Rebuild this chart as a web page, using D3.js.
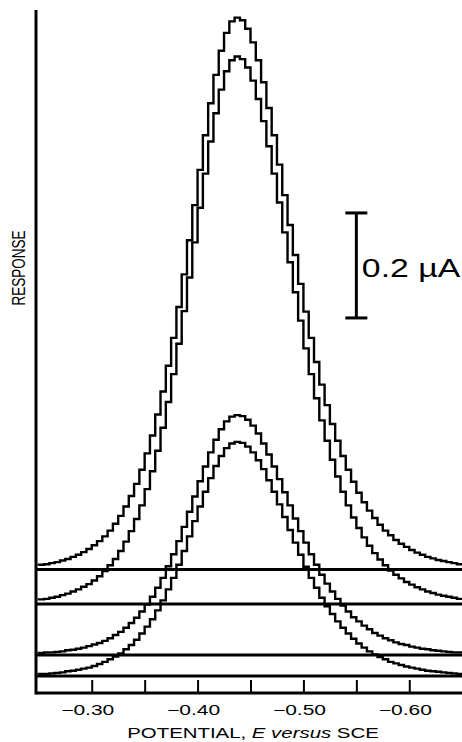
<!DOCTYPE html>
<html>
<head>
<meta charset="utf-8">
<script src="https://cdn.jsdelivr.net/npm/d3@7"></script>
<style>
	body { margin: 0; background: #fff; }
	svg { display: block; }
	text { font-family: "Liberation Sans", Arial, Helvetica, sans-serif; fill: #000; }
</style>
</head>
<body>
<div id="chart"></div>
<script>
//---------------- data (potential in V, current in uA above own baseline) ----------------------
var potentials = [
	-0.250, -0.255, -0.260, -0.265, -0.270, -0.275, -0.280, -0.285, -0.290, -0.295,
	-0.300, -0.305, -0.310, -0.315, -0.320, -0.325, -0.330, -0.335, -0.340, -0.345,
	-0.350, -0.355, -0.360, -0.365, -0.370, -0.375, -0.380, -0.385, -0.390, -0.395,
	-0.400, -0.405, -0.410, -0.415, -0.420, -0.425, -0.430, -0.435, -0.440, -0.445,
	-0.450, -0.455, -0.460, -0.465, -0.470, -0.475, -0.480, -0.485, -0.490, -0.495,
	-0.500, -0.505, -0.510, -0.515, -0.520, -0.525, -0.530, -0.535, -0.540, -0.545,
	-0.550, -0.555, -0.560, -0.565, -0.570, -0.575, -0.580, -0.585, -0.590, -0.595,
	-0.600, -0.605, -0.610, -0.615, -0.620, -0.625, -0.630, -0.635, -0.640, -0.645,
	-0.650];

var bigOuter = [
	0.007, 0.009, 0.010, 0.012, 0.014, 0.017, 0.020, 0.024, 0.028, 0.033,
	0.039, 0.046, 0.054, 0.063, 0.074, 0.087, 0.102, 0.120, 0.140, 0.163,
	0.190, 0.221, 0.255, 0.295, 0.339, 0.388, 0.441, 0.500, 0.562, 0.627,
	0.694, 0.761, 0.827, 0.888, 0.942, 0.988, 1.022, 1.044, 1.051, 1.046,
	1.030, 1.004, 0.970, 0.928, 0.879, 0.827, 0.771, 0.713, 0.656, 0.599,
	0.544, 0.491, 0.441, 0.395, 0.352, 0.313, 0.277, 0.245, 0.216, 0.190,
	0.167, 0.146, 0.128, 0.112, 0.098, 0.085, 0.074, 0.065, 0.056, 0.049,
	0.043, 0.037, 0.032, 0.028, 0.024, 0.021, 0.018, 0.016, 0.014, 0.012,
	0.010];

var bigInner = [
	0.007, 0.009, 0.010, 0.012, 0.014, 0.017, 0.020, 0.024, 0.028, 0.033,
	0.038, 0.045, 0.053, 0.063, 0.074, 0.086, 0.101, 0.119, 0.139, 0.162,
	0.188, 0.219, 0.253, 0.292, 0.336, 0.385, 0.438, 0.496, 0.558, 0.622,
	0.689, 0.755, 0.820, 0.881, 0.935, 0.980, 1.015, 1.036, 1.043, 1.038,
	1.022, 0.997, 0.962, 0.920, 0.872, 0.820, 0.765, 0.708, 0.651, 0.594,
	0.540, 0.487, 0.438, 0.392, 0.350, 0.311, 0.275, 0.243, 0.214, 0.188,
	0.165, 0.145, 0.127, 0.111, 0.097, 0.085, 0.074, 0.064, 0.056, 0.049,
	0.042, 0.037, 0.032, 0.028, 0.024, 0.021, 0.018, 0.016, 0.014, 0.012,
	0.010];

var smallOuter = [
	0.003, 0.004, 0.005, 0.005, 0.006, 0.007, 0.009, 0.010, 0.012, 0.014,
	0.017, 0.020, 0.023, 0.027, 0.032, 0.038, 0.044, 0.052, 0.061, 0.071,
	0.083, 0.096, 0.111, 0.128, 0.147, 0.169, 0.192, 0.217, 0.244, 0.273,
	0.302, 0.331, 0.359, 0.386, 0.410, 0.430, 0.445, 0.454, 0.457, 0.455,
	0.448, 0.437, 0.422, 0.403, 0.382, 0.359, 0.335, 0.310, 0.285, 0.260,
	0.236, 0.214, 0.192, 0.172, 0.153, 0.136, 0.121, 0.107, 0.094, 0.083,
	0.072, 0.064, 0.056, 0.049, 0.042, 0.037, 0.032, 0.028, 0.024, 0.021,
	0.019, 0.016, 0.014, 0.012, 0.011, 0.009, 0.008, 0.007, 0.006, 0.005,
	0.005];

var smallInner = [
	0.003, 0.004, 0.004, 0.005, 0.006, 0.007, 0.009, 0.010, 0.012, 0.014,
	0.016, 0.019, 0.023, 0.027, 0.032, 0.037, 0.043, 0.051, 0.059, 0.069,
	0.081, 0.094, 0.108, 0.125, 0.144, 0.165, 0.187, 0.212, 0.238, 0.266,
	0.295, 0.323, 0.351, 0.377, 0.400, 0.419, 0.434, 0.443, 0.446, 0.444,
	0.437, 0.426, 0.411, 0.394, 0.373, 0.351, 0.327, 0.303, 0.278, 0.254,
	0.231, 0.208, 0.187, 0.168, 0.149, 0.133, 0.118, 0.104, 0.092, 0.081,
	0.071, 0.062, 0.054, 0.047, 0.041, 0.036, 0.032, 0.027, 0.024, 0.021,
	0.018, 0.016, 0.014, 0.012, 0.010, 0.009, 0.008, 0.007, 0.006, 0.005,
	0.004];

// each trace is offset upward on the plot (uA)
var baselineOffsets = [0.203, 0.137, 0.040, 0];
var traces = [bigOuter, bigInner, smallOuter, smallInner];

var xTicks = [-0.30, -0.35, -0.40, -0.45, -0.50, -0.55, -0.60];
var xLabelled = [-0.30, -0.40, -0.50, -0.60];

var scaleBarValue = 0.2;      // uA
var scaleBarBottom = 0.682;   // uA, where the bar sits
var scaleBarPotential = -0.55;

//---------------- sizes ----------------------
var w = 462;
var h = 742;
var axisX = 36;
var axisTop = 10;
var stripBottom = 693;
var stretch = 1.36;   // the original figure is wide-set

//---------------- scales ----------------------
var xScale = d3.scaleLinear()
		.domain([-0.25, -0.65])
		.range([38.8, 462.2]);

var yScale = d3.scaleLinear()
		.domain([0, 1])
		.range([676, 151]);

var svg = d3.select("#chart").append("svg")
		.attr("width", w)
		.attr("height", h);

//---------------- baselines ----------------------
svg.append("g")
	.selectAll("line")
	.data(baselineOffsets)
	.enter()
	.append("line")
	.attr("x1", axisX)
	.attr("x2", w)
	.attr("y1", function(d) { return yScale(d); })
	.attr("y2", function(d) { return yScale(d); })
	.attr("stroke", "#000")
	.attr("stroke-width", 3);

//---------------- traces ----------------------
var line = d3.line()
		.x(function(d) { return xScale(d.E); })
		.y(function(d) { return yScale(d.base + d.i); })
		.curve(d3.curveStepBefore);

svg.append("g")
	.selectAll("path")
	.data(traces)
	.enter()
	.append("path")
	.attr("d", function(values, k) {
		var pts = potentials.map(function(E, j) {
			return { E: E, i: values[j], base: baselineOffsets[k] };
		});
		return line(pts);
	})
	.attr("fill", "none")
	.attr("stroke", "#000")
	.attr("stroke-width", 2.4)
	.attr("stroke-linejoin", "miter");

//---------------- axes ----------------------
var xAxis = d3.axisBottom(xScale)
		.tickValues(xTicks)
		.tickSizeInner(-13)
		.tickSizeOuter(0)
		.tickPadding(12)
		.tickFormat(function(d) {
			return xLabelled.indexOf(d) >= 0 ? d3.format(".2f")(d) : "";
		});

var xg = svg.append("g")
		.attr("transform", "translate(0," + stripBottom + ")")
		.call(xAxis);

xg.select(".domain").remove();
xg.selectAll(".tick line")
	.attr("stroke", "#000")
	.attr("stroke-width", 2);
xg.selectAll(".tick text")
	.attr("x", -3)
	.attr("transform", "scale(1.5,1)")
	.style("font-size", "14px")
	.attr("fill", "#000");

// bottom line of the strip
svg.append("line")
	.attr("x1", axisX)
	.attr("x2", w)
	.attr("y1", stripBottom)
	.attr("y2", stripBottom)
	.attr("stroke", "#000")
	.attr("stroke-width", 3);

// vertical response axis
svg.append("line")
	.attr("x1", axisX)
	.attr("x2", axisX)
	.attr("y1", axisTop)
	.attr("y2", stripBottom + 1.5)
	.attr("stroke", "#000")
	.attr("stroke-width", 3);

// axis titles
svg.append("text")
	.attr("transform", "translate(253,737.5) scale(" + stretch + ",1)")
	.style("text-anchor", "middle")
	.style("font-size", "15px")
	.html("POTENTIAL, <tspan font-style=\"italic\">E versus</tspan> SCE");

svg.append("text")
	.attr("transform", "translate(24.5,268) scale(" + stretch + ",1) rotate(-90)")
	.style("text-anchor", "middle")
	.style("font-size", "13.5px")
	.text("RESPONSE");

//---------------- scale bar ----------------------
var barX = xScale(scaleBarPotential);
var barY0 = yScale(scaleBarBottom);
var barY1 = yScale(scaleBarBottom + scaleBarValue);
var bar = svg.append("g").attr("stroke", "#000").attr("stroke-width", 3);

bar.append("line")
	.attr("x1", barX).attr("x2", barX)
	.attr("y1", barY0).attr("y2", barY1);
bar.selectAll("line.cap")
	.data([barY0, barY1])
	.enter()
	.append("line")
	.attr("class", "cap")
	.attr("x1", barX - 11).attr("x2", barX + 11)
	.attr("y1", function(d) { return d; })
	.attr("y2", function(d) { return d; });

svg.append("text")
	.attr("transform", "translate(" + (barX + 5.5) + "," + ((barY0 + barY1) / 2 + 12) + ") scale(1.3,1)")
	.style("font-size", "26px")
	.text("0.2 \u00b5A");
</script>
</body>
</html>
